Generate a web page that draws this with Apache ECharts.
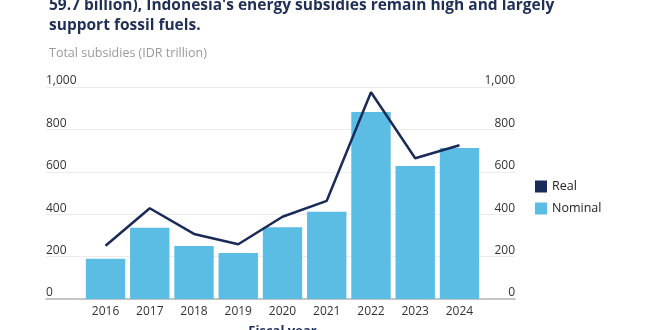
<!DOCTYPE html>
<html>
<head>
<meta charset="utf-8">
<script src="https://cdn.jsdelivr.net/npm/echarts@6/dist/echarts.min.js"></script>
<style>
  html, body { margin: 0; padding: 0; background: #ffffff; }
  #chart { width: 660px; height: 330px; }
</style>
</head>
<body>
<div id="chart"></div>
<script>
// Indonesia energy subsidies, IDR trillion
const years = ['2016', '2017', '2018', '2019', '2020', '2021', '2022', '2023', '2024'];
const nominal = [190, 336, 250, 217, 338, 412, 882, 627, 712];
const real = [251, 428, 307, 258, 388, 463, 975, 664, 725];
const yTicks = [0, 200, 400, 600, 800, 1000];

const FONT = '"Open Sans", Lato, sans-serif';
const NAVY = '#1b2b58';
const SKY = '#5bbde3';

const fmt = v => v.toLocaleString('en-US');

const chart = echarts.init(document.getElementById('chart'), null, { renderer: 'canvas' });

chart.setOption({
  animation: false,
  backgroundColor: '#ffffff',
  textStyle: { fontFamily: FONT },
  graphic: [
    {
      type: 'text', left: 49, top: -4,
      style: {
        text: "59.7 billion), Indonesia's energy subsidies remain high and largely\nsupport fossil fuels.",
        font: 'bold 15.5px ' + FONT, fill: '#1f2f55', lineHeight: 20
      }
    },
    {
      type: 'text', left: 49, top: 47,
      style: { text: 'Total subsidies (IDR trillion)', font: '12.5px ' + FONT, fill: '#9a9a9a' }
    }
  ],
  legend: {
    orient: 'vertical', left: 530, top: 175, itemWidth: 12, itemHeight: 12, itemGap: 9,
    textStyle: { fontSize: 12.5, color: '#222', fontFamily: FONT },
    data: [
      { name: 'Real', icon: 'rect', itemStyle: { color: NAVY } },
      { name: 'Nominal', icon: 'rect', itemStyle: { color: SKY } }
    ]
  },
  grid: [
    // wide frame: gridlines, value labels, baseline
    { left: 46, right: 145, top: 87, bottom: 31, outerBoundsMode: 'none', containLabel: false },
    // plotting area for the categories
    { left: 83.4, right: 178.4, top: 87, bottom: 31, outerBoundsMode: 'none', containLabel: false }
  ],
  xAxis: [
    {
      gridIndex: 0, type: 'value', min: 0, max: 1,
      axisLine: { show: true, onZero: false, lineStyle: { color: '#b5b5b5', width: 1.5 } },
      axisTick: { show: false }, axisLabel: { show: false }, splitLine: { show: false }
    },
    {
      gridIndex: 1, type: 'category', data: years,
      axisLine: { show: false }, axisTick: { show: false },
      axisLabel: { fontSize: 12, color: '#333', margin: 7, fontFamily: FONT },
      name: 'Fiscal year', nameLocation: 'middle', nameGap: 26,
      nameTextStyle: { fontSize: 13, fontWeight: 'bold', color: '#1f2f55', fontFamily: FONT }
    }
  ],
  yAxis: [
    {
      gridIndex: 0, type: 'value', min: yTicks[0], max: yTicks[yTicks.length - 1], interval: 200,
      position: 'left',
      axisLine: { show: false }, axisTick: { show: false },
      axisLabel: {
        inside: true, margin: 0, align: 'left', verticalAlign: 'bottom', lineHeight: 12,
        padding: [0, 0, 0, 0],
        fontSize: 12, color: '#333', fontFamily: FONT, formatter: fmt,
        showMinLabel: true, showMaxLabel: true
      },
      splitLine: { show: true, lineStyle: { color: '#ececec', width: 1 } }
    },
    {
      gridIndex: 0, type: 'value', min: yTicks[0], max: yTicks[yTicks.length - 1], interval: 200,
      position: 'right',
      axisLine: { show: false }, axisTick: { show: false },
      axisLabel: {
        inside: true, margin: 0, align: 'right', verticalAlign: 'bottom', lineHeight: 12,
        padding: [0, 0, 0, 0],
        fontSize: 12, color: '#333', fontFamily: FONT, formatter: fmt,
        showMinLabel: true, showMaxLabel: true
      },
      splitLine: { show: false }
    },
    {
      gridIndex: 1, type: 'value', min: yTicks[0], max: yTicks[yTicks.length - 1],
      show: false, splitLine: { show: false }
    }
  ],
  series: [
    {
      name: 'Nominal', type: 'bar', xAxisIndex: 1, yAxisIndex: 2,
      data: nominal, barCategoryGap: '11%',
      itemStyle: { color: SKY }
    },
    {
      name: 'Real', type: 'line', xAxisIndex: 1, yAxisIndex: 2,
      data: real, showSymbol: false, symbol: 'none',
      lineStyle: { color: NAVY, width: 2.5 }, itemStyle: { color: NAVY }, z: 5
    }
  ]
});
</script>
</body>
</html>
